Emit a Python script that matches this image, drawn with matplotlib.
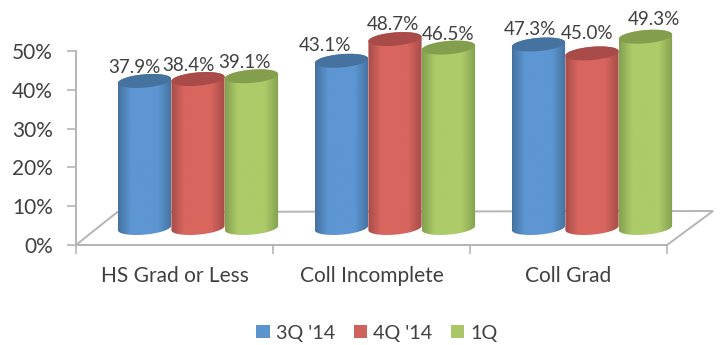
import matplotlib
matplotlib.use("Agg")
import matplotlib.pyplot as plt
import numpy as np
from matplotlib.colors import LinearSegmentedColormap
from matplotlib.patches import Patch, Polygon

plt.rcParams.update({"font.family": "Lato", "font.size": 13.5, "text.color": "#404040"})

categories = ["HS Grad or Less", "Coll Incomplete", "Coll Grad"]
series_names = ["3Q '14", "4Q '14", "1Q"]
q3_14 = [37.9, 43.1, 47.3]
q4_14 = [38.4, 48.7, 45.0]
q1 = [39.1, 46.5, 49.3]
series_values = [q3_14, q4_14, q1]
y_ticks = [0, 10, 20, 30, 40, 50]

# dark edge, light middle, cap
palette = [("#44729f", "#5d96d2", "#45729f"),
           ("#a64c48", "#d8665f", "#a94b48"),
           ("#83a04e", "#adcb69", "#839f4e")]
legend_colors = ["#5b93cc", "#cf625d", "#a9c668"]
# label nudges in pixels, per series and category
label_nudge = [[(-10, 5), (-16, 7), (-9, 6)],
               [(-10, 5), (-2, 6), (-5, 11)],
               [(-7, 5), (0, 5), (8, 9)]]

PX_X = 197.0  # pixels per category
PX_Y = 3.88   # pixels per percent
DEPTH_X = 23.5 / PX_X
DEPTH_Y = 17 / PX_Y
BAR_W = 53.5 / PX_X
RX, RY, TILT = 26.7, 6.6, np.radians(5)

fig = plt.figure(figsize=(7.21, 3.45), dpi=100)
ax = fig.add_axes([0, 0, 1, 1])


def ring(cx, cy, t):
    dx = RX * np.cos(t) * np.cos(TILT) - RY * np.sin(t) * np.sin(TILT)
    dy = RX * np.cos(t) * np.sin(TILT) + RY * np.sin(t) * np.cos(TILT)
    return np.column_stack([cx + dx / PX_X, cy + dy / PX_Y])


def cylinder(cx, value, dark, light, cap, z):
    base = DEPTH_Y
    top = base + value
    lower = ring(cx, base, np.linspace(np.pi, 2 * np.pi, 60))
    upper = ring(cx, top, np.linspace(0, np.pi, 60))
    body = Polygon(np.vstack([lower, upper]), closed=True, fc="none", ec="none", zorder=z)
    ax.add_patch(body)
    cmap = LinearSegmentedColormap.from_list("c", [(0, dark), (0.24, light), (0.74, light), (1, dark)])
    im = ax.imshow(np.linspace(0, 1, 128)[None, :], cmap=cmap, aspect="auto", zorder=z,
                   extent=[cx - RX / PX_X, cx + RX / PX_X, -RY / PX_Y + base - 2, top + 4])
    im.set_clip_path(body)
    ax.add_patch(Polygon(ring(cx, top, np.linspace(0, 2 * np.pi, 80)), closed=True, fc=cap, ec="none", zorder=z + 0.1))


# floor of the 3D box
floor_x = [0, 3, 3 + 2 * DEPTH_X * 0.98, 2 * DEPTH_X * 0.88, 0]
floor_y = [0, 0, 34 / PX_Y, 33 / PX_Y, 0]
ax.plot(floor_x, floor_y, color="#b5b5b5", lw=1.4, zorder=1, solid_joinstyle="miter")

for i, values in enumerate(series_values):
    dark, light, cap = palette[i]
    for g, value in enumerate(values):
        cx = g + 0.5 + DEPTH_X + (i - 1) * BAR_W
        cylinder(cx, value, dark, light, cap, 3 + i)
        dx, dy = label_nudge[i][g]
        ax.annotate(f"{value:.1f}%", (cx, DEPTH_Y + value), xytext=(dx, dy), textcoords="offset pixels",
                    ha="center", va="bottom", zorder=10, fontsize=13.6, color="#404040")

ax.set_xlim(-76 / PX_X, (721 - 76) / PX_X)
ax.set_ylim(-100 / PX_Y, 245 / PX_Y)

ax.patch.set_visible(False)
for side in ["top", "right"]:
    ax.spines[side].set_visible(False)
for side in ["left", "bottom"]:
    ax.spines[side].set_color("#b5b5b5")
    ax.spines[side].set_linewidth(1.4)
    ax.spines[side].set_position(("data", 0))
ax.spines["left"].set_bounds(0, 50)
ax.spines["bottom"].set_bounds(0, 3)

ax.set_yticks(y_ticks)
ax.set_yticklabels([f"{t}%" for t in y_ticks], fontsize=15, color="#404040")
ax.set_xticks([0, 1, 2, 3])
ax.set_xticklabels([])
ax.tick_params(axis="both", color="#b5b5b5", width=1.2, length=6.5, direction="out")
ax.tick_params(axis="y", pad=10)

for g, name in enumerate(categories):
    ax.annotate(name, (g + 0.5, 0), xytext=(0, -31), textcoords="offset pixels",
                ha="center", va="center", fontsize=15, color="#404040")

handles = [Patch(fc=c, ec="none", label=n) for c, n in zip(legend_colors, series_names)]
ax.legend(handles=handles, loc="center", bbox_to_anchor=(377 / 721, 1 - 333 / 345), ncols=3, frameon=False,
          fontsize=14.2, handlelength=0.68, handleheight=0.68, handletextpad=0.3, columnspacing=0.95, borderpad=0,
          labelcolor="#404040")

fig.savefig("out.png", dpi=100, facecolor="white")
